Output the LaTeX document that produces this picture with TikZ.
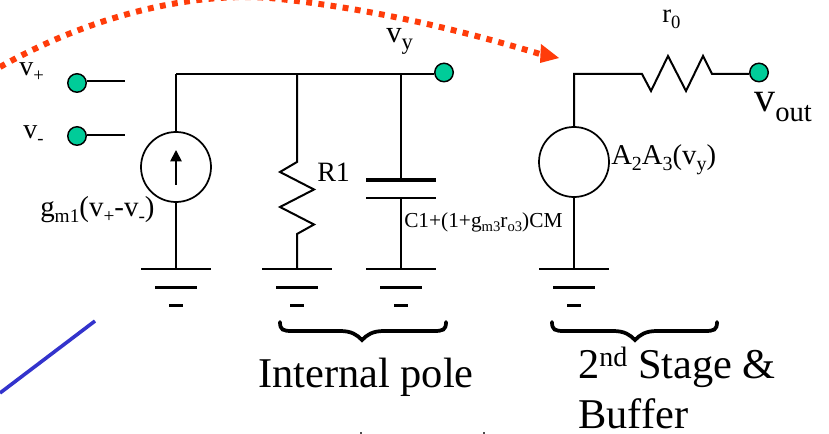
\documentclass[tikz,border=0pt]{standalone}
\usepackage{fontspec}
\setmainfont{Liberation Serif}
\usetikzlibrary{arrows.meta}
\definecolor{dotgreen}{RGB}{0,204,153}
\definecolor{redarc}{RGB}{255,60,10}
\definecolor{bluel}{RGB}{51,51,204}
\newcommand{\fs}[1]{\fontsize{#1}{#1}\selectfont}
\tikzset{
  x=0.75pt,y=-0.75pt,
  wire/.style={draw=black,line width=1.5pt,line join=miter},
  thick wire/.style={draw=black,line width=2.1pt},
  term/.style={circle,draw=black,fill=dotgreen,line width=1.1pt,minimum size=18.5*0.75pt,inner sep=0pt},
  src/.style={circle,draw=black,line width=1.3pt,fill=white,minimum size=70*0.75pt,inner sep=0pt},
  lbl/.style={inner sep=0pt,anchor=base west,text=black},
  bracel/.style={draw=black,line width=2.8pt,line cap=round},
}
\newcommand{\gnd}[2]{%
  \coordinate (#1) at #2;
  \draw[wire] ([xshift=-26.25pt]#1) -- ([xshift=26.25pt]#1);
  \draw[wire,line width=2.3pt] ([xshift=-15.75pt,yshift=-13.9pt]#1) -- ([xshift=15.75pt,yshift=-13.9pt]#1);
  \draw[wire,line width=2.3pt] ([xshift=-5.25pt,yshift=-27.4pt]#1) -- ([xshift=5.25pt,yshift=-27.4pt]#1);
}
\newcommand{\cbrace}[3]{% name-free: x1, xmid, x2
  \draw[bracel] (#1,322) .. controls (#1,330) and (#1+3,331) .. (#1+12,331)
     -- (#2-22,331) .. controls (#2-10,331) and (#2-5,335) .. (#2,340)
     .. controls (#2+5,335) and (#2+10,331) .. (#2+22,331)
     -- (#3-12,331) .. controls (#3-3,331) and (#3,330) .. (#3,322);
}
\begin{document}
\begin{tikzpicture}
\useasboundingbox (0,0) rectangle (829,434);
% red arc
\coordinate (arcstart) at (0,67);
\coordinate (arcend) at (557,58);
\draw[draw=redarc,line width=4.5pt,dash pattern=on 4.4pt off 4.8pt]
   (arcstart) .. controls (90,16) and (190,-8) .. (270,-2)
   .. controls (370,8) and (460,30) .. (540,54);
\fill[redarc] (541,44) -- (559,58) -- (540,63) -- cycle;
% blue line
\coordinate (bluea) at (0,393);
\coordinate (blueb) at (95,321);
\draw[bluel,line width=2.7pt] (bluea) -- (blueb);
% input terminals
\node[term] (vp) at (77,83) {};
\node[term] (vm) at (77,136) {};
\coordinate (vpe) at (125,81);
\coordinate (vme) at (125,135);
\draw[thick wire] (vpe -| vp.east) -- (vpe);
\draw[wire] (vme -| vm.east) -- (vme);
% nodes
\coordinate (tl) at (176,74);
\coordinate (tr) at (297,74);
\coordinate (tc) at (401,74);
\node[term] (vyt) at (444,72.5) {};
\node[src] (gm) at (176,167) {};
\gnd{g1}{(176,269)}
\gnd{g2}{(297,269)}
\gnd{g3}{(401,269)}
\gnd{g4}{(574,269)}
\draw[thick wire] (g1) -- (gm.south);
\draw[thick wire] (gm.north) -- (tl);
\draw[wire] (tl) -- (tl -| vyt.west);
\draw[wire] (tr) -- (297,162) -- (280,172) -- (314,189.5) -- (280,207) -- (314,224.5) -- (297,234) -- (g2);
% cap
\coordinate (capa) at (401,180);
\coordinate (capb) at (401,198);
\draw[wire] (tc) -- (capa);
\draw[wire,line width=2.4pt] (366,180) -- (436,180);
\draw[wire] (366,198) -- (436,198);
\draw[wire] (capb) -- (g3);
% arrow in source
\coordinate (arra) at (176,185);
\coordinate (arrb) at (176,150);
\draw[line width=1.3pt,-{Triangle[length=8.5pt,width=8.5pt]}] (arra) -- (arrb);
% second stage
\node[src] (ab) at (574,162) {};
\node[term] (vo) at (759,72.5) {};
\coordinate (sc) at (574,74);
\draw[wire] (ab.north) -- (sc) -- (642,74) -- (651,91) -- (668,56) -- (686,91) -- (703,56) -- (712,74) -- (sc -| vo.west);
\draw[wire] (ab.south) -- (g4);
% braces
\cbrace{280}{362}{446}
\cbrace{552}{635}{717}
% cut-off marks at the lower edge
\fill[black!70] (359.5,432) rectangle (361.5,434);
\fill[black!70] (482.5,432) rectangle (484.5,434);
% texts
\node[lbl] at (19,76) {\fs{21}v\raisebox{-4.5pt}{\fs{14}+}};
\node[lbl] at (23,139) {\fs{21}v\raisebox{-4.5pt}{\fs{14}-}};
\node[lbl] at (386,43) {\fs{23}v\raisebox{-5pt}{\fs{17}y}};
\node[lbl] at (40,217) {\fs{21.7}g\raisebox{-4pt}{\fs{14.5}m1}(v\raisebox{-4pt}{\fs{14.5}+}-v\raisebox{-4pt}{\fs{14.5}-})};
\node[lbl] at (317,182) {\fs{21}R1};
\node[lbl] at (404,228) {\fs{16}C1+(1+g\raisebox{-3pt}{\fs{11}m3}r\raisebox{-3pt}{\fs{11}o3})CM};
\node[lbl] at (611,165) {\fs{21.5}A\raisebox{-4pt}{\fs{15}2}A\raisebox{-4pt}{\fs{15}3}(v\raisebox{-4pt}{\fs{15}y})};
\node[lbl] at (662,23) {\fs{20}r\raisebox{-4pt}{\fs{14}0}};
\node[lbl] at (754,112) {\fs{31.5}v\raisebox{-7.5pt}{\fs{21.5}out}};
\node[lbl] at (258,388) {\fs{31.8}Internal pole};
\node[lbl] at (578,379) {\fs{31.8}2\raisebox{9pt}{\fs{21}nd} Stage \&};
\node[lbl] at (578,429) {\fs{31.8}Buffer};
\end{tikzpicture}
\end{document}
